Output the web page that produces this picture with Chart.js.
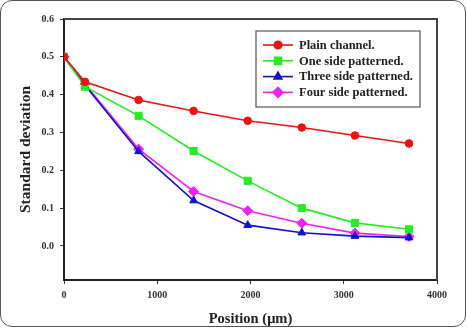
<!DOCTYPE html>
<html>
<head>
<meta charset="utf-8">
<script src="https://cdn.jsdelivr.net/npm/chart.js@4.4.0/dist/chart.umd.min.js"></script>
<style>
  html, body { margin: 0; padding: 0; background: #fff; }
  #wrap { position: relative; width: 467px; height: 328px; }
  #frame { position: absolute; left: 0; top: 0; width: 464px; height: 325px;
           border: 1.5px solid #555; border-radius: 12px; pointer-events: none; }
  canvas { position: absolute; left: 0; top: 0; }
</style>
</head>
<body>
<div id="wrap">
  <canvas id="chart" width="467" height="328"></canvas>
  <div id="frame"></div>
</div>
<script>
// data
const positions = [0, 225, 800, 1390, 1970, 2550, 3120, 3700];
const plainChannel = [0.500, 0.434, 0.386, 0.357, 0.331, 0.313, 0.292, 0.271];
const oneSide = [0.500, 0.421, 0.344, 0.251, 0.172, 0.100, 0.061, 0.044];
const threeSide = [0.500, 0.425, 0.250, 0.120, 0.055, 0.035, 0.026, 0.022];
const fourSide = [0.500, 0.428, 0.256, 0.144, 0.093, 0.060, 0.034, 0.025];
const seriesNames = ['Plain channel.', 'One side patterned.', 'Three side patterned.', 'Four side patterned.'];
const yTicks = [0, 0.1, 0.2, 0.3, 0.4, 0.5, 0.6];
const xTicks = [0, 1000, 2000, 3000, 4000];

const serif = "'Liberation Serif', 'DejaVu Serif', serif";

function pts(vals) {
  return positions.map((x, i) => ({ x: x, y: vals[i] }));
}

function mkSet(label, vals, color, style, r) {
  return {
    label: label,
    data: pts(vals),
    borderColor: color,
    backgroundColor: color,
    borderWidth: 1.6,
    pointStyle: style,
    pointRadius: r,
    pointBorderWidth: 1,
    tension: 0
  };
}

// box round the plot
const frameBox = {
  id: 'frameBox',
  afterDatasetsDraw(chart) {
    const a = chart.chartArea;
    const c = chart.ctx;
    c.save();
    c.strokeStyle = '#444';
    c.lineWidth = 2;
    c.beginPath();
    c.moveTo(a.left, a.top);
    c.lineTo(a.right, a.top);
    c.lineTo(a.right, a.bottom);
    c.stroke();
    c.restore();
  }
};

// legend box inside the plot, top right
const boxLegend = {
  id: 'boxLegend',
  afterDraw(chart) {
    const c = chart.ctx;
    const x0 = 256, y0 = 31, w = 164, h = 76;
    c.save();
    c.fillStyle = '#fff';
    c.fillRect(x0, y0, w, h);
    c.strokeStyle = '#555';
    c.lineWidth = 1.2;
    c.strokeRect(x0, y0, w, h);
    c.font = 'bold 12.5px ' + serif;
    c.textBaseline = 'middle';
    chart.data.datasets.forEach((ds, i) => {
      const y = 45 + i * 15.8;
      c.strokeStyle = ds.borderColor;
      c.lineWidth = 1.6;
      c.beginPath();
      c.moveTo(263, y);
      c.lineTo(293, y);
      c.stroke();
      c.fillStyle = ds.backgroundColor;
      Chart.helpers.drawPoint(c, { pointStyle: ds.pointStyle, radius: ds.pointRadius, rotation: 0, borderWidth: 1 }, 278, y);
      c.fillStyle = '#222';
      c.fillText(ds.label, 299, y + 0.5);
    });
    c.restore();
  }
};

new Chart(document.getElementById('chart').getContext('2d'), {
  type: 'line',
  data: {
    datasets: [
      mkSet(seriesNames[0], plainChannel, '#ee1111', 'circle', 3.8),
      mkSet(seriesNames[1], oneSide, '#22ee22', 'rect', 5),
      mkSet(seriesNames[2], threeSide, '#1111cc', 'triangle', 4.5),
      mkSet(seriesNames[3], fourSide, '#ee22ee', 'rectRot', 5)
    ]
  },
  options: {
    responsive: false,
    animation: false,
    layout: { padding: { left: 0, top: 19, right: 30, bottom: 0 } },
    plugins: {
      legend: { display: false },
      tooltip: { enabled: false }
    },
    scales: {
      x: {
        type: 'linear',
        min: 0,
        max: 4000,
        afterBuildTicks: (s) => { s.ticks = xTicks.map(v => ({ value: v })); },
        afterFit: (s) => { s.height = 48; },
        grid: { display: true, drawOnChartArea: false, drawTicks: true, tickLength: 4, color: '#333' },
        border: { color: '#222', width: 2 },
        ticks: {
          color: '#333', padding: 5, font: { family: serif, size: 10, weight: 'bold' },
          callback: (v) => String(v)
        },
        title: {
          display: true, text: 'Position (μm)', color: '#222',
          font: { family: serif, size: 14.5, weight: 'bold' }, padding: { top: 0, bottom: 0 }
        }
      },
      y: {
        min: -0.09,
        max: 0.6,
        afterBuildTicks: (s) => { s.ticks = yTicks.map(v => ({ value: v })); },
        afterFit: (s) => { s.width = 64; },
        grid: { display: true, drawOnChartArea: false, drawTicks: true, tickLength: 4, color: '#333' },
        border: { color: '#222', width: 2 },
        ticks: {
          color: '#333', padding: 6, font: { family: serif, size: 10, weight: 'bold' },
          callback: (v) => Number(v).toFixed(1)
        },
        title: {
          display: true, text: 'Standard deviation', color: '#222',
          font: { family: serif, size: 15.5, weight: 'bold' }, padding: { top: 17, bottom: 0 }
        }
      }
    }
  },
  plugins: [frameBox, boxLegend]
});
</script>
</body>
</html>
